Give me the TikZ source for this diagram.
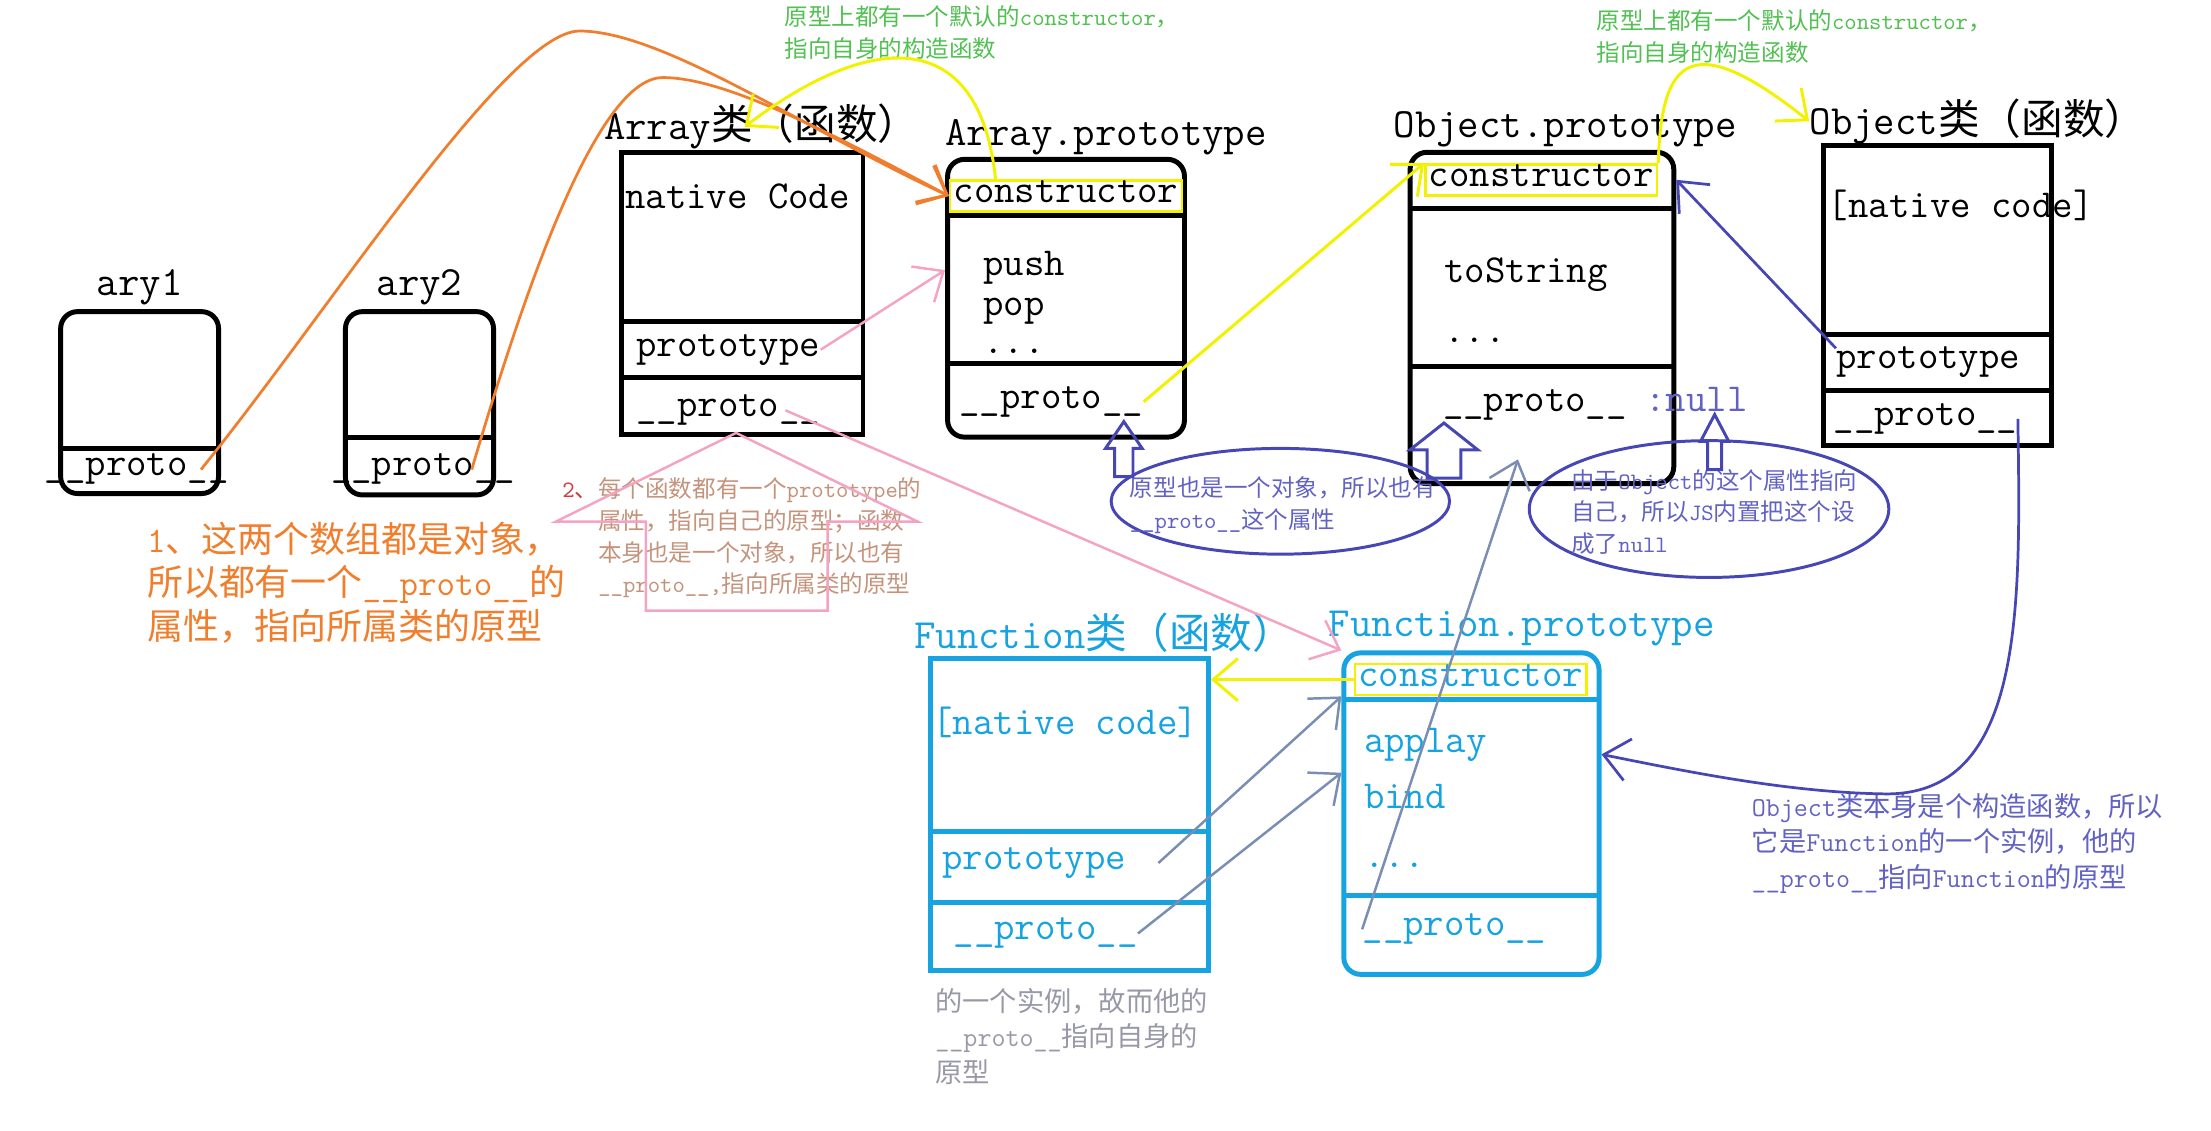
\documentclass[tikz,border=0pt]{standalone}
\usepackage{fontspec}
\usepackage{xcolor}
\usepackage{tikz}
\usetikzlibrary{arrows.meta,positioning,fit,shapes.geometric}
\newfontfamily\cjk{Noto Sans CJK SC}
% chinese characters switch to the cjk font on their own
\XeTeXinterchartokenstate=1
\newXeTeXintercharclass\zhclass
\newcount\zhc
\def\zhrange#1#2{\zhc=#1 \loop\XeTeXcharclass\zhc=\zhclass \advance\zhc by 1 \ifnum\zhc<#2 \repeat}
\zhrange{"3000}{"3040}
\zhrange{"4E00}{"A000}
\zhrange{"FF00}{"FF60}
\XeTeXinterchartoks 0 \zhclass = {\begingroup\cjk}
\XeTeXinterchartoks 4095 \zhclass = {\begingroup\cjk}
\XeTeXinterchartoks \zhclass 0 = {\endgroup}
\XeTeXinterchartoks \zhclass 4095 = {\endgroup}
\definecolor{orng}{HTML}{F07E2C}
\definecolor{yel}{HTML}{F2F200}
\definecolor{pnk}{HTML}{F4A3C2}
\definecolor{pnktext}{HTML}{C4937C}
\definecolor{pnkred}{HTML}{D83A3A}
\definecolor{grn}{HTML}{52C052}
\definecolor{bpur}{HTML}{4646B4}
\definecolor{bpurtext}{HTML}{6262C4}
\definecolor{fncyan}{HTML}{17A2E0}
\definecolor{slate}{HTML}{7A8EB4}
\definecolor{greytext}{HTML}{9898A8}
\tikzset{
  lbl/.style={anchor=west,inner sep=0pt,font=\fontsize{16.8}{20}\selectfont\ttfamily},
  cell/.style={anchor=west,inner sep=0pt,text height=1.4ex,text depth=0.2ex,font=\fontsize{16}{19}\selectfont\ttfamily},
  cons/.style={cell,anchor=center,draw=yel,line width=1pt,inner xsep=0.5mm,minimum height=4.4mm},
  objbox/.style={draw,line width=2pt,rounded corners=2.4mm,inner sep=0pt},
  clsbox/.style={draw,line width=2pt,inner sep=0pt},
  fnbox/.style={clsbox,draw=fncyan},
  divline/.style={line width=2pt},
  fndiv/.style={divline,fncyan},
  note/.style={anchor=west,align=left,inner sep=0pt},
  smallnote/.style={note,font=\fontsize{9.5}{12.8}\selectfont\ttfamily},
  midnote/.style={note,font=\fontsize{11}{14.3}\selectfont\ttfamily},
  bignote/.style={note,font=\fontsize{14.5}{17.6}\selectfont\ttfamily},
  noteell/.style={ellipse,draw=bpur,line width=1.2pt,inner sep=0pt},
  barb/.style={-{Straight Barb[length=3.5mm,width=6mm]}},
  oline/.style={barb,orng,line width=1.1pt},
  yline/.style={barb,yel,line width=1.2pt},
  pline/.style={barb,pnk,line width=1pt},
  bline/.style={barb,bpur,line width=1.1pt},
  sline/.style={barb,slate,line width=1pt},
  pblock/.style={pnk,line width=1pt},
  bblock/.style={bpur,line width=1.2pt},
}

\begin{document}
\begin{tikzpicture}[x=0.2mm,y=-0.2mm]
  \useasboundingbox (0,0) rectangle (1568,802);

  % the two arrays
  \node[objbox,fit={(43,221) (155,350)}] (a1box) {};
  \node[objbox,fit={(245,221) (350,351)}] (a2box) {};
  \draw[divline] (43,318) -- (155,318);
  \draw[divline] (245,310) -- (350,310);
  \node[lbl,above=0.5mm of a1box] (a1lbl) {ary1};
  \node[lbl,above=0.5mm of a2box] (a2lbl) {ary2};
  \node[cell,anchor=center] (a1proto) at (97,333) {\_\_proto\_\_};
  \node[cell,anchor=center] (a2proto) at (300,333) {\_\_proto\_\_};

  % Array
  \node[clsbox,fit={(441,108) (612,308)}] (abox) {};
  \draw[divline] (441,228) -- (612,228);
  \draw[divline] (441,268) -- (612,268);
  \node[lbl] (albl) at (428,90) {Array类（函数）};
  \node[cell] (acode) at (443,143) {native Code};
  \node[cell] (aprot) at (451,248) {prototype};
  \node[cell] (aproto) at (451,291) {\_\_proto\_\_};

  % Array.prototype
  \node[objbox,fit={(672,113) (840,310)}] (apbox) {};
  \draw[divline] (672,153) -- (840,153);
  \draw[divline] (672,258) -- (840,258);
  \node[lbl] (aplbl) at (670,97) {Array.prototype};
  \node[cons] (apcons) at (756,139) {constructor};
  \node[cell] (appush) at (697,191) {push};
  \node[cell] (appop) at (697,219) {pop};
  \node[cell] (apdots) at (697,246) {...};
  \node[cell] (approto) at (680,285) {\_\_proto\_\_};

  % Object.prototype
  \node[objbox,fit={(1000,108) (1187,343)}] (opbox) {};
  \draw[divline] (1000,148) -- (1187,148);
  \draw[divline] (1000,260) -- (1187,260);
  \node[lbl] (oplbl) at (988,92) {Object.prototype};
  \node[cons] (opcons) at (1093,127.5) {constructor};
  \node[cell] (opstr) at (1024,196) {toString};
  \node[cell] (opdots) at (1024,238) {...};
  \node[cell] (opproto) at (1023,287) {\_\_proto\_\_};
  \node[cell,text=bpurtext,right=2.5mm of opproto] (opnull) {:null};

  % Object
  \node[clsbox,fit={(1293,103) (1455,316)}] (obox) {};
  \draw[divline] (1293,237) -- (1455,237);
  \draw[divline] (1293,277) -- (1455,277);
  \node[lbl] (olbl) at (1283,86) {Object类（函数）};
  \node[cell] (ocode) at (1296,150) {[native code]};
  \node[cell] (oprot) at (1302,257) {prototype};
  \node[cell] (oproto) at (1300,297) {\_\_proto\_\_};

  % Function
  \node[fnbox,fit={(660,467) (857,688)}] (fbox) {};
  \draw[fndiv] (660,590) -- (857,590);
  \draw[fndiv] (660,640) -- (857,640);
  \node[lbl,text=fncyan] (flbl) at (648,449) {Function类（函数）};
  \node[cell,text=fncyan] (fcode) at (661,516) {[native code]};
  \node[cell,text=fncyan] (fprot) at (668,612) {prototype};
  \node[cell,text=fncyan] (fproto) at (676,662) {\_\_proto\_\_};

  % Function.prototype
  \node[fnbox,rounded corners=2.4mm,fit={(953,463) (1134,691)}] (fpbox) {};
  \draw[fndiv] (953,496) -- (1134,496);
  \draw[fndiv] (953,635) -- (1134,635);
  \node[lbl,text=fncyan] (fplbl) at (942,446) {Function.prototype};
  \node[cons,text=fncyan] (fpcons) at (1043,482) {constructor};
  \node[cell,text=fncyan] (fpapp) at (967,529) {applay};
  \node[cell,text=fncyan] (fpbind) at (967,569) {bind};
  \node[cell,text=fncyan] (fpdots) at (967,611) {...};
  \node[cell,text=fncyan] (fpproto) at (966,659) {\_\_proto\_\_};

  % notes
  \node[smallnote,text=grn] (tip1) at (556,23) {原型上都有一个默认的constructor，\\指向自身的构造函数};
  \node[smallnote,text=grn] (tip2) at (1132,26) {原型上都有一个默认的constructor，\\指向自身的构造函数};
  \node[bignote,text=orng] (note1) at (104,413) {1、这两个数组都是对象，\\所以都有一个\_\_proto\_\_的\\属性，指向所属类的原型};
  \node[smallnote,text=pnktext] (note2) at (424,381.5) {\llap{\color{pnkred}2、}每个函数都有一个prototype的\\属性，指向自己的原型；函数\\本身也是一个对象，所以也有\\\_\_proto\_\_,指向所属类的原型};
  \node[noteell,minimum width=48mm,minimum height=15mm] (ell1) at (908,355.5) {};
  \node[noteell,minimum width=51mm,minimum height=19.4mm] (ell2) at (1212,361) {};
  \node[smallnote,text=bpurtext] (note3) at (801,358.5) {原型也是一个对象，所以也有\\\_\_proto\_\_这个属性};
  \node[smallnote,text=bpurtext] (note4) at (1114,363) {由于Object的这个属性指向\\自己，所以JS内置把这个设\\成了null};
  \node[midnote,text=bpurtext] (note5) at (1242,598) {Object类本身是个构造函数，所以\\它是Function的一个实例，他的\\\_\_proto\_\_指向Function的原型};
  \node[midnote,text=greytext] (note6) at (663,735) {的一个实例，故而他的\\\_\_proto\_\_指向自身的\\原型};

  % hollow block arrows
  \draw[pblock] (522,307) -- (394,370) -- (458,370) -- (458,433) -- (587,433) -- (587,370) -- (651,370) -- cycle;
  \foreach \tx/\ty/\hw/\sw in {797/299/13/6.5,1024/300/24/12,1216/294/10/5}
    \draw[bblock] (\tx,\ty) -- (\tx+\hw,\ty+19) -- (\tx+\sw,\ty+19) -- (\tx+\sw,\ty+39)
      -- (\tx-\sw,\ty+39) -- (\tx-\sw,\ty+19) -- (\tx-\hw,\ty+19) -- cycle;

  % links
  \draw[oline] ([xshift=-4mm]a1proto.east) .. controls (234,220) and (360,22) .. (411,22)
    .. controls (470,22) and (571,92) .. (apcons.west);
  \draw[oline] ([xshift=-6.2mm]a2proto.east) .. controls (365,230) and (420,55) .. (470,55)
    .. controls (515,55) and (590,95) .. (apcons.west);
  \draw[yline] ([xshift=-10mm]apcons.north) .. controls (695,20) and (620,20) .. ([xshift=20mm]albl.west);
  \draw[yline] (approto.east) -- (opcons.north west);
  \draw[yline] (opcons.north east) .. controls (1178,40) and (1200,20) .. (olbl.west);
  \draw[yline] (fpcons.west) -- (fpcons.west -| fbox.east);
  \draw[pline] (aprot.east) -- ([yshift=4mm]apbox.west);
  \draw[pline] ([xshift=-5mm]aproto.east) -- (fpbox.north west);
  \draw[bline] ([yshift=2mm]oprot.west) -- (opcons.east -| opbox.east);
  \draw[bline] (oproto.east) .. controls (1433,430) and (1436,565) .. (1336,563)
    .. controls (1270,562) and (1200,548) .. ([yshift=8.4mm]fpbox.east);
  \draw[sline] (fpproto.west) -- ([xshift=-3.4mm,yshift=3.8mm]opbox.south);
  \draw[sline] ([xshift=4.5mm]fprot.east) -- (fpbox.west |- fpcons.south);
  \draw[sline] (fproto.east) -- ([yshift=5.8mm]fpbox.west);
\end{tikzpicture}
\end{document}
